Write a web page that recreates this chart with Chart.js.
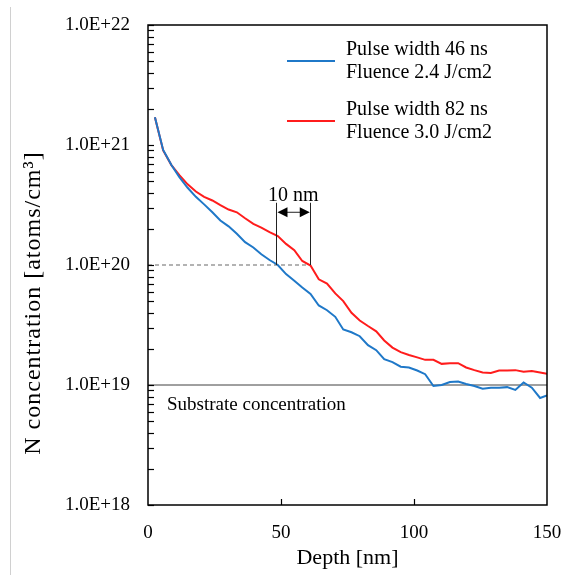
<!DOCTYPE html>
<html>
<head>
<meta charset="utf-8">
<script src="https://cdn.jsdelivr.net/npm/chart.js@4"></script>
<style>
  html, body { margin: 0; padding: 0; background: #fff; }
  #wrap { width: 565px; height: 575px; }
</style>
</head>
<body>
<div id="wrap"><canvas id="c" width="565" height="575"></canvas></div>
<script>
const depthNm = [2.6, 5.7, 8.8, 11.8, 14.9, 18.0, 21.1, 24.2, 27.2, 30.3, 33.4, 36.5, 39.6, 42.6, 45.7, 48.8,
  51.9, 55.0, 58.0, 61.1, 64.2, 67.3, 70.4, 73.4, 76.5, 79.6, 82.7, 85.8, 88.8, 91.9, 95.0, 98.1,
  101.2, 104.2, 107.3, 110.4, 113.5, 116.6, 119.6, 122.7, 125.8, 128.9, 132.0, 135.0, 138.1, 141.2, 144.3, 147.4, 150.0];

const pulse46 = [1.70e21, 9.1e20, 6.8e20, 5.4e20, 4.4e20, 3.7e20, 3.2e20, 2.75e20, 2.35e20, 2.1e20, 1.82e20, 1.55e20, 1.40e20, 1.23e20, 1.10e20, 1.0e20,
  8.4e19, 7.4e19, 6.5e19, 5.75e19, 4.6e19, 4.2e19, 3.7e19, 2.9e19, 2.75e19, 2.55e19, 2.15e19, 1.95e19, 1.64e19, 1.55e19, 1.42e19, 1.40e19,
  1.32e19, 1.23e19, 9.8e18, 1.0e19, 1.06e19, 1.07e19, 1.02e19, 9.8e18, 9.3e18, 9.5e18, 9.5e18, 9.6e18, 9.1e18, 1.05e19, 9.5e18, 7.8e18, 8.2e18];

const pulse82 = [1.70e21, 9.0e20, 6.8e20, 5.6e20, 4.7e20, 4.1e20, 3.7e20, 3.45e20, 3.15e20, 2.9e20, 2.75e20, 2.45e20, 2.2e20, 2.05e20, 1.88e20, 1.74e20,
  1.5e20, 1.33e20, 1.08e20, 9.9e19, 7.6e19, 7.0e19, 5.8e19, 5.0e19, 4.0e19, 3.45e19, 3.1e19, 2.8e19, 2.35e19, 2.05e19, 1.88e19, 1.78e19,
  1.70e19, 1.62e19, 1.62e19, 1.50e19, 1.52e19, 1.52e19, 1.40e19, 1.33e19, 1.27e19, 1.26e19, 1.32e19, 1.32e19, 1.33e19, 1.29e19, 1.31e19, 1.27e19, 1.24e19];

const legendLines = [
  ["Pulse width 46 ns", "Fluence 2.4 J/cm2"],
  ["Pulse width 82 ns", "Fluence 3.0 J/cm2"]
];
const xTickValues = [0, 50, 100, 150];
const yExponents = [18, 19, 20, 21, 22];
const substrateLevel = 1e19;
const markLevel = 1e20;
const markDepths = [48.3, 61.0];
const markLabel = "10 nm";
const substrateLabel = "Substrate concentration";
const yTitle = "N concentration [atoms/cm³]";

const BLUE = '#1f78c8';
const RED = '#ff1c1c';
const SERIF = '"Liberation Serif", "Times New Roman", serif';

const toXY = (vals) => vals.map((v, i) => ({ x: depthNm[i], y: v }));

const overlay = {
  id: 'overlay',
  beforeDatasetsDraw(chart) {
    const { ctx, chartArea: a, scales: { x, y } } = chart;
    ctx.save();
    ctx.strokeStyle = '#9a9a9a';
    ctx.lineWidth = 1.5;
    ctx.setLineDash([4, 3]);
    ctx.beginPath();
    ctx.moveTo(a.left, y.getPixelForValue(markLevel));
    ctx.lineTo(x.getPixelForValue(markDepths[1]), y.getPixelForValue(markLevel));
    ctx.stroke();
    ctx.setLineDash([]);
    ctx.strokeStyle = '#404040';
    ctx.lineWidth = 1;
    ctx.beginPath();
    ctx.moveTo(a.left, y.getPixelForValue(substrateLevel));
    ctx.lineTo(a.right, y.getPixelForValue(substrateLevel));
    ctx.stroke();
    ctx.restore();
  },
  afterDraw(chart) {
    const { ctx, chartArea: a, scales: { x, y } } = chart;
    ctx.save();
    ctx.strokeStyle = '#d0d0d0';
    ctx.lineWidth = 1;
    ctx.beginPath();
    ctx.moveTo(10.5, 7);
    ctx.lineTo(10.5, 575);
    ctx.stroke();

    ctx.strokeStyle = '#000';
    ctx.lineWidth = 1.5;
    ctx.strokeRect(a.left, a.top, a.right - a.left, a.bottom - a.top);

    ctx.lineWidth = 1.2;
    y.ticks.forEach(t => {
      const py = Math.round(y.getPixelForValue(t.value)) + 0.5;
      ctx.beginPath();
      ctx.moveTo(a.left, py);
      ctx.lineTo(a.left + 6, py);
      ctx.stroke();
    });
    xTickValues.forEach(v => {
      if (v === 0 || v === 150) return;
      const px = Math.round(x.getPixelForValue(v)) + 0.5;
      ctx.beginPath();
      ctx.moveTo(px, a.bottom);
      ctx.lineTo(px, a.bottom - 6);
      ctx.stroke();
    });

    const xl = x.getPixelForValue(markDepths[0]);
    const xr = x.getPixelForValue(markDepths[1]);
    const yBase = y.getPixelForValue(markLevel);
    const yTop = y.getPixelForValue(3.3e20);
    const yArrow = y.getPixelForValue(2.75e20);
    ctx.strokeStyle = '#222';
    ctx.lineWidth = 1;
    ctx.beginPath();
    ctx.moveTo(Math.round(xl) + 0.5, yTop); ctx.lineTo(Math.round(xl) + 0.5, yBase);
    ctx.moveTo(Math.round(xr) + 0.5, yTop); ctx.lineTo(Math.round(xr) + 0.5, yBase);
    ctx.moveTo(xl + 8, yArrow); ctx.lineTo(xr - 8, yArrow);
    ctx.stroke();
    ctx.fillStyle = '#000';
    ctx.beginPath();
    ctx.moveTo(xl + 1, yArrow); ctx.lineTo(xl + 11, yArrow - 5); ctx.lineTo(xl + 11, yArrow + 5); ctx.closePath();
    ctx.moveTo(xr - 0.5, yArrow); ctx.lineTo(xr - 10.5, yArrow - 5); ctx.lineTo(xr - 10.5, yArrow + 5); ctx.closePath();
    ctx.fill();
    ctx.font = '20px ' + SERIF;
    ctx.textAlign = 'center';
    ctx.textBaseline = 'middle';
    ctx.fillText(markLabel, (xl + xr) / 2, y.getPixelForValue(3.8e20));

    ctx.font = '19px ' + SERIF;
    ctx.textAlign = 'left';
    ctx.fillText(substrateLabel, 167, y.getPixelForValue(substrateLevel) + 20);

    const colors = [BLUE, RED];
    const rowsY = [[50, 73], [110, 133]];
    const lineY = [61, 121];
    ctx.font = '20px ' + SERIF;
    legendLines.forEach((lines, i) => {
      ctx.strokeStyle = colors[i];
      ctx.lineWidth = 2;
      ctx.beginPath();
      ctx.moveTo(287, lineY[i]);
      ctx.lineTo(335, lineY[i]);
      ctx.stroke();
      ctx.fillStyle = '#000';
      lines.forEach((s, j) => ctx.fillText(s, 346, rowsY[i][j]));
    });

    // y axis title
    ctx.save();
    ctx.translate(34, 303);
    ctx.rotate(-Math.PI / 2);
    ctx.font = '24px ' + SERIF;
    if ('letterSpacing' in ctx) ctx.letterSpacing = '1px';
    ctx.textAlign = 'center';
    ctx.textBaseline = 'middle';
    ctx.fillStyle = '#000';
    ctx.fillText(yTitle, 0, 0);
    ctx.restore();

    ctx.restore();
  }
};

new Chart(document.getElementById('c'), {
  type: 'line',
  data: {
    datasets: [
      { label: legendLines[0].join(' '), data: toXY(pulse46), borderColor: BLUE, borderWidth: 2, pointRadius: 0, tension: 0, fill: false },
      { label: legendLines[1].join(' '), data: toXY(pulse82), borderColor: RED, borderWidth: 2, pointRadius: 0, tension: 0, fill: false }
    ]
  },
  options: {
    responsive: false,
    animation: false,
    devicePixelRatio: 1,
    layout: { padding: { top: 25, right: 18, left: 0, bottom: 0 } },
    plugins: { legend: { display: false }, tooltip: { enabled: false } },
    scales: {
      x: {
        type: 'linear', min: 0, max: 150,
        afterBuildTicks: (s) => { s.ticks = xTickValues.map(v => ({ value: v })); },
        grid: { display: false, drawTicks: false },
        border: { display: false },
        ticks: { color: '#000', font: { family: SERIF, size: 19 }, padding: 17, maxRotation: 0 },
        title: { display: true, text: 'Depth [nm]', color: '#000', font: { family: SERIF, size: 22 }, padding: { top: 0, bottom: 4 } },
        afterFit: (s) => { s.height = 70; s.paddingLeft = 0; s.paddingRight = 0; }
      },
      y: {
        type: 'logarithmic', min: 1e18, max: 1e22,
        afterBuildTicks: (s) => {
          const t = [];
          for (let e = yExponents[0]; e < yExponents[yExponents.length - 1]; e++) {
            for (let m = 1; m <= 9; m++) t.push({ value: m * Math.pow(10, e) });
          }
          t.push({ value: Math.pow(10, yExponents[yExponents.length - 1]) });
          s.ticks = t;
        },
        grid: { display: false, drawTicks: false },
        border: { display: false },
        ticks: {
          color: '#000', font: { family: SERIF, size: 19 }, padding: 18, autoSkip: false,
          callback: (v) => {
            const e = Math.round(Math.log10(v));
            if (Math.abs(v - Math.pow(10, e)) / v > 1e-6) return '';
            return '1.0E+' + e;
          }
        },
        title: { display: false },
        afterFit: (s) => { s.width = 148; s.paddingTop = 0; s.paddingBottom = 0; }
      }
    }
  },
  plugins: [overlay]
});
</script>
</body>
</html>
